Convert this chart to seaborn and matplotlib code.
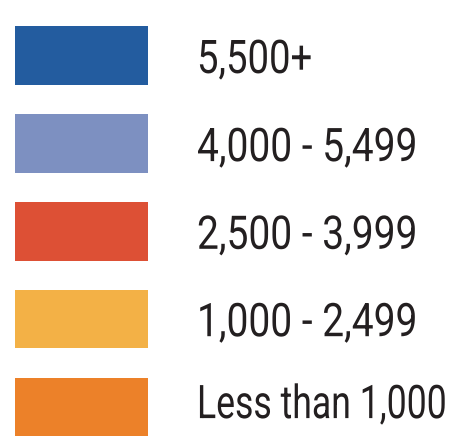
import matplotlib
matplotlib.use("Agg")
import matplotlib.pyplot as plt
import seaborn as sns
import pandas as pd
from matplotlib.patheffects import AbstractPathEffect
from matplotlib.transforms import Affine2D

# ---- data ----
categories = ["5,500+", "4,000 - 5,499", "2,500 - 3,999", "1,000 - 2,499", "Less than 1,000"]
colors = ["#235C9F", "#7D90C1", "#DD5035", "#F3B146", "#EC8129"]

# ---- layout constants (pixels) ----
W, H = 457, 444
SWATCH_LEFT, SWATCH_W = 15, 133
TEXT_X = 197
ROW0_CENTER, ROW_PITCH = 55.5, 87.9
BOX_H = 58.5
LABEL_W = [115, 220, 220, 220, 249]          # rendered label widths
BASELINE_OFF = [17.5, 17.7, 17.5, 17.0, 11.0]  # baseline below row centre
DIGIT_H = 33.0                                # cap/digit height in px

sns.set_theme(style="white")
plt.rcParams["font.family"] = ["Roboto", "DejaVu Sans"]

fig = plt.figure(figsize=(W / 100, H / 100), dpi=100)
ax = fig.add_axes([0, 0, 1, 1])

df = pd.DataFrame({"label": categories, "len": [SWATCH_W] * len(categories)})
sns.barplot(data=df, x="len", y="label", hue="label", palette=colors,
            width=BOX_H / ROW_PITCH, legend=False, ax=ax, saturation=1,
            linewidth=0)

ax.set_xlim(-SWATCH_LEFT, W - SWATCH_LEFT)
top = -ROW0_CENTER / ROW_PITCH
bottom = top + H / ROW_PITCH
ax.set_ylim(bottom, top)
ax.set_axis_off()


class VStretch(AbstractPathEffect):
    """Stretch glyphs vertically about the baseline (condensed look)."""
    def __init__(self, sy):
        super().__init__()
        self.sy = sy

    def draw_path(self, renderer, gc, tpath, affine, rgbFace=None):
        m = affine.get_matrix().copy()
        m[1, 0] *= self.sy
        m[1, 1] *= self.sy
        renderer.draw_path(gc, tpath, Affine2D(m), rgbFace)


base_fs = 30.0
texts = []
for i, lab in enumerate(categories):
    t = ax.text(TEXT_X - SWATCH_LEFT, i + BASELINE_OFF[i] / ROW_PITCH, lab,
                ha="left", va="baseline", fontsize=base_fs, color="#231F20")
    texts.append(t)

fig.canvas.draw()
r = fig.canvas.get_renderer()
for t, wt in zip(texts, LABEL_W):
    w = t.get_window_extent(r).width
    fs = base_fs * wt / w
    t.set_fontsize(fs)
    px = fs * 100 / 72.0
    sy = DIGIT_H / (px * 0.711)
    t.set_path_effects([VStretch(sy)])

fig.savefig("out.png", dpi=100)
